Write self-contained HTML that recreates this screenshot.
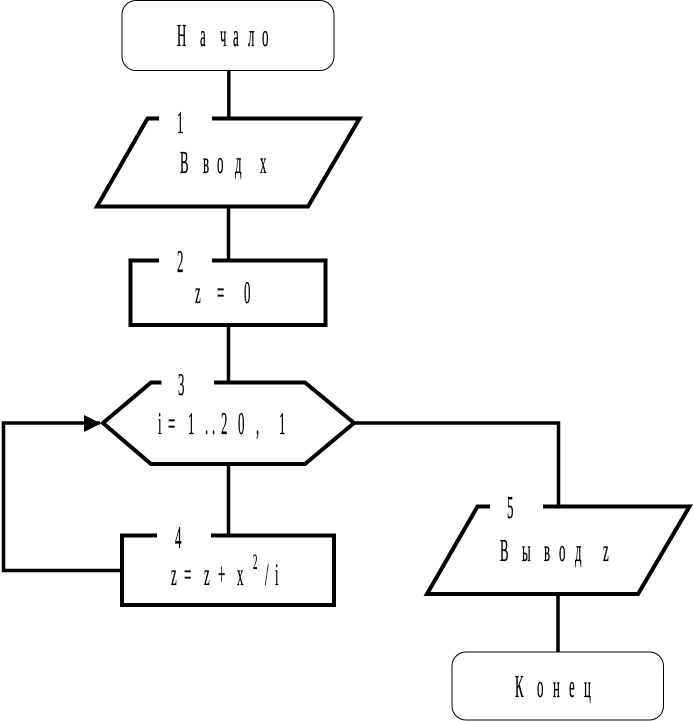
<!DOCTYPE html>
<html lang="ru">
<head>
<meta charset="utf-8">
<title>Блок-схема</title>
<style>
html,body{margin:0;padding:0;background:#fff;}
svg{display:block;}
text{font-family:"Liberation Serif","Noto Serif CJK SC",serif;font-size:32px;fill:#000;stroke:#000;stroke-width:.35px;}
</style>
</head>
<body>
<svg width="693" height="721" viewBox="0 0 693 721" xmlns="http://www.w3.org/2000/svg">
  <g fill="none" stroke="#000" stroke-linejoin="miter">
    <!-- terminators -->
    <rect x="122" y="0.5" width="212" height="70" rx="14" ry="14" stroke-width="1"/>
    <rect x="452" y="652" width="211.500" height="68" rx="14" ry="14" stroke-width="1"/>

    <!-- connectors -->
    <g stroke-width="3.500">
      <path d="M228.800 70V118"/>
      <path d="M228.500 206V260"/>
      <path d="M228.500 325V382"/>
      <path d="M228.500 464V535"/>
      <path d="M355 423H558.500V506"/>
      <path d="M558 594V652"/>
      <path d="M121 570.500H3.500V423H100"/>
    </g>

    <!-- shapes -->
    <g stroke-width="4">
      <path d="M159 118.500H147.500L97 206.500H308L359.500 118.500H212"/>
      <path d="M159 260.500H130.500V325H325.500V260.500H212"/>
      <path d="M161.500 382.500H151L103 423L151 464H305L354 423L305 382.500H214"/>
      <path d="M157 535.500H122V605H334V535.500H211"/>
      <path d="M490 506.500H477.500L427 594H638L689.500 506.500H543"/>
    </g>
  </g>

  <!-- arrowhead -->
  <polygon points="84,415 101,423.500 84,432" fill="#000"/>

  <!-- labels -->
  <g transform="scale(.4 1)">
    <text x="442.500 500 550 582.500 620 655" y="46">Начало</text>
    <text x="442.500" y="133">1</text>
    <text x="450 507.500 542.500 587.500 650" y="173">Вводх</text>
    <text x="442.500" y="272">2</text>
    <text x="487.500 542.500 610" y="303">z=0</text>
    <text x="445" y="395">3</text>
    <text x="395 420 470 512.500 530 552.500 595 640 697.500" y="434">i=1..20,1</text>
    <text x="437.500" y="548">4</text>
    <text x="427.500 460 510 545 592.500" y="585">z=z+x</text>
    <text x="632.500" y="569" style="font-size:22px">2</text>
    <text x="662.500 687.500" y="585">/i</text>
    <text x="1267.500" y="518">5</text>
    <text x="1250 1305 1360 1397.500 1437.500 1507.500" y="561">Выводz</text>
    <text x="1287.500 1342.500 1382.500 1422.500 1460" y="697">Конец</text>
  </g>
</svg>
</body>
</html>
